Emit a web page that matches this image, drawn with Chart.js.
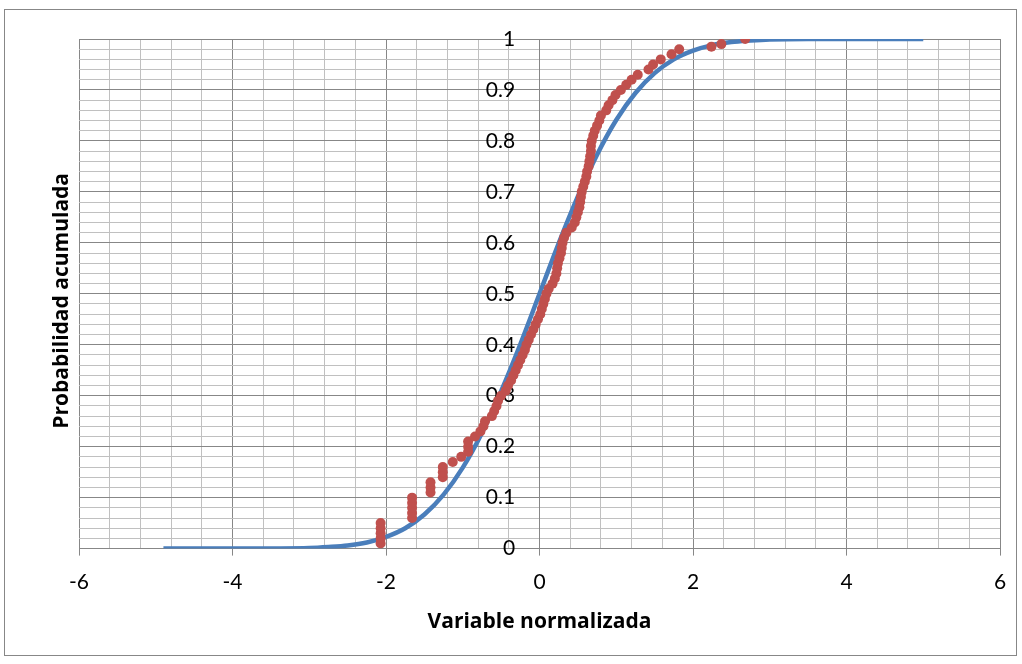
<!DOCTYPE html>
<html>
<head>
<meta charset="utf-8">
<script src="https://cdn.jsdelivr.net/npm/chart.js@4"></script>
<style>
  html, body { margin: 0; padding: 0; background: #fff; }
  #wrap { position: relative; width: 1022px; height: 664px; }
</style>
</head>
<body>
<div id="wrap"><canvas id="chart" width="1022" height="664"></canvas></div>
<script>
// observed points (normalized variable vs cumulative probability)
const obsX = [
  -2.07, -2.07, -2.07, -2.07, -2.07,
  -1.66, -1.66, -1.66, -1.66, -1.66,
  -1.42, -1.42, -1.42, -1.26, -1.26, -1.26,
  -1.13, -1.02, -0.93, -0.93, -0.93,
  -0.84, -0.77, -0.73, -0.71, -0.62, -0.59, -0.56, -0.54, -0.50,
  -0.44, -0.41, -0.37, -0.34, -0.31, -0.28, -0.25, -0.22, -0.19, -0.17,
  -0.14, -0.11, -0.08, -0.05, -0.02, 0.01, 0.03, 0.05, 0.07, 0.09,
  0.12, 0.17, 0.20, 0.22, 0.23, 0.24, 0.26, 0.28, 0.29, 0.30,
  0.32, 0.35, 0.42, 0.46, 0.48, 0.50, 0.52, 0.53, 0.54, 0.55,
  0.57, 0.59, 0.61, 0.62, 0.64, 0.65, 0.66, 0.67, 0.67, 0.68,
  0.70, 0.72, 0.75, 0.78, 0.80, 0.87, 0.90, 0.95, 0.99, 1.06,
  1.13, 1.20, 1.28, 1.42, 1.48, 1.58, 1.72, 1.82, 2.24, 2.37, 2.68
];
const obsY = [
  0.01, 0.02, 0.03, 0.04, 0.05,
  0.06, 0.07, 0.08, 0.09, 0.10,
  0.11, 0.12, 0.13, 0.14, 0.15, 0.16,
  0.17, 0.18, 0.19, 0.20, 0.21,
  0.22, 0.23, 0.24, 0.25, 0.26, 0.27, 0.28, 0.29, 0.30,
  0.31, 0.32, 0.33, 0.34, 0.35, 0.36, 0.37, 0.38, 0.39, 0.40,
  0.41, 0.42, 0.43, 0.44, 0.45, 0.46, 0.47, 0.48, 0.49, 0.50,
  0.51, 0.52, 0.53, 0.54, 0.55, 0.56, 0.57, 0.58, 0.59, 0.60,
  0.61, 0.62, 0.63, 0.64, 0.65, 0.66, 0.67, 0.68, 0.69, 0.70,
  0.71, 0.72, 0.73, 0.74, 0.75, 0.76, 0.77, 0.78, 0.79, 0.80,
  0.81, 0.82, 0.83, 0.84, 0.85, 0.86, 0.87, 0.88, 0.89, 0.90,
  0.91, 0.92, 0.93, 0.94, 0.95, 0.96, 0.97, 0.98, 0.985, 0.99, 1.00
];

// theoretical curve
const curveX = [-4.9, -4, -3.5, -3, -2.75, -2.5, -2.25, -2, -1.75, -1.5, -1.25, -1, -0.75, -0.5, -0.25,
  0, 0.25, 0.5, 0.75, 1, 1.25, 1.5, 1.75, 2, 2.25, 2.5, 2.75, 3, 3.5, 4, 5];
const curveY = [0, 0, 0.0002, 0.001, 0.003, 0.006, 0.012, 0.023, 0.04, 0.067, 0.106, 0.159, 0.227, 0.309, 0.401,
  0.5, 0.599, 0.691, 0.773, 0.841, 0.894, 0.933, 0.96, 0.977, 0.988, 0.994, 0.997, 0.999, 1, 1, 1];

const xMin = -6, xMax = 6, xStep = 0.4, xLabelEvery = 2;
const yMin = 0, yMax = 1, yStep = 0.02, yLabelEvery = 0.1;

const majorColor = "#878787";
const minorColor = "#c0c0c0";
const isMult = (v, m) => Math.abs(v / m - Math.round(v / m)) < 1e-6;

const frame = {
  id: "frame",
  beforeDraw(chart) {
    const c = chart.ctx;
    c.save();
    c.fillStyle = "#fff";
    c.fillRect(0, 0, chart.width, chart.height);
    c.strokeStyle = "#878787";
    c.lineWidth = 1;
    c.strokeRect(4.5, 9.5, 1012, 646);
    c.restore();
  },
  afterDraw(chart) {
    const c = chart.ctx;
    const a = chart.chartArea;
    c.save();
    c.translate(62, (a.top + a.bottom) / 2 + 7);
    c.rotate(-Math.PI / 2);
    c.font = "bold 21px 'Open Sans'";
    c.fillStyle = "#000";
    c.textAlign = "center";
    c.textBaseline = "middle";
    c.fillText("Probabilidad acumulada", 0, 0);
    c.restore();
  }
};

new Chart(document.getElementById("chart"), {
  type: "scatter",
  data: {
    datasets: [
      {
        label: "Observada",
        data: obsX.map((x, i) => ({ x: x, y: obsY[i] })),
        backgroundColor: "#c0504d",
        borderWidth: 0,
        pointRadius: 5,
      },
      {
        label: "Normal",
        data: curveX.map((x, i) => ({ x: x, y: curveY[i] })),
        showLine: true,
        borderColor: "#4a7ebb",
        borderWidth: 4.5,
        pointRadius: 0,
        cubicInterpolationMode: "monotone",
      },
    ],
  },
  options: {
    responsive: false,
    animation: false,
    layout: { padding: { left: 79, top: 39, right: 22, bottom: 29 } },
    plugins: { legend: { display: false }, tooltip: { enabled: false } },
    scales: {
      x: {
        type: "linear",
        min: xMin,
        max: xMax,
        border: { color: majorColor, width: 1 },
        grid: {
          color: (ctx) => (ctx.tick && isMult(ctx.tick.value, xLabelEvery) ? majorColor : minorColor),
          tickColor: (ctx) => (ctx.tick && isMult(ctx.tick.value, xLabelEvery) ? majorColor : "rgba(0,0,0,0)"),
          tickLength: 7,
        },
        ticks: {
          stepSize: xStep,
          autoSkip: false,
          maxRotation: 0,
          padding: 14,
          color: "#000",
          font: { family: "Lato", size: 21 },
          callback: (v) => (isMult(v, xLabelEvery) ? String(Math.round(v)) : ""),
        },
        title: {
          display: true,
          text: "Variable normalizada",
          color: "#000",
          font: { family: "Open Sans", size: 21, weight: "bold" },
          padding: { top: 1, bottom: 0 },
        },
      },
      y: {
        type: "linear",
        position: { x: 0 },
        min: yMin,
        max: yMax,
        border: { color: majorColor, width: 1 },
        grid: {
          color: (ctx) => (ctx.tick && isMult(ctx.tick.value, yLabelEvery) ? majorColor : minorColor),
          tickColor: (ctx) => (ctx.tick && isMult(ctx.tick.value, yLabelEvery) ? majorColor : "rgba(0,0,0,0)"),
          tickLength: 6,
        },
        ticks: {
          stepSize: yStep,
          autoSkip: false,
          padding: 20,
          color: "#000",
          font: { family: "Lato", size: 21 },
          // two figure spaces keep the labels clear of the axis line
          callback: (v) => (isMult(v, yLabelEvery) ? String(Number(v.toFixed(1))) + "\u2007\u2007" : ""),
        },
      },
    },
  },
  plugins: [frame],
});
</script>
</body>
</html>
